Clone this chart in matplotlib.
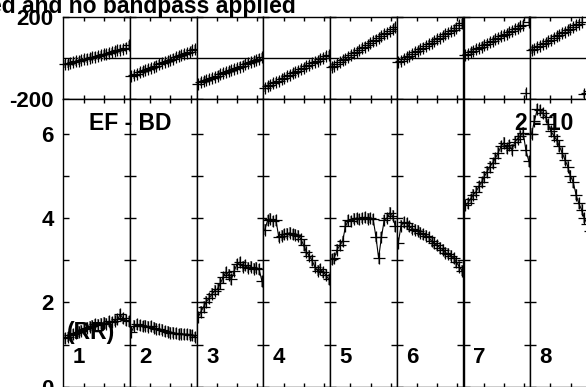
import numpy as np
import matplotlib
matplotlib.use('Agg')
import matplotlib.pyplot as plt

plt.rcParams['font.family'] = ['Liberation Sans', 'DejaVu Sans']
plt.rcParams['font.weight'] = 'bold'
plt.rcParams['axes.unicode_minus'] = False

# observation times within each IF panel (hours)
times = [0.07, 0.21, 0.35, 0.48, 0.62, 0.76, 0.90, 1.03, 1.17, 1.31, 1.44, 1.58,
         1.72, 1.86, 1.99, 2.13, 2.27, 2.40, 2.54, 2.68, 2.82, 2.95, 3.09, 3.23]
ifNumbers = [1, 2, 3, 4, 5, 6, 7, 8]

# phase (degrees) per IF
phase1 = [-30, -27, -22, -20, -16, -12, -10, -6, -2, 0, 4, 8, 10, 14, 18, 22, 25, 30, 33, 38, 42, 46, 52, 62]
phase2 = [-88, -82, -76, -70, -65, -59, -53, -48, -42, -36, -30, -25, -19, -13, -8, -2, 4, 10, 15, 21, 27, 32, 38, 45]
phase3 = [-125, -118, -113, -107, -102, -96, -91, -85, -80, -74, -69, -63, -58, -52, -47, -41, -36, -30, -25, -19, -14, -8, -2, 5]
phase4 = [-145, -138, -131, -124, -117, -110, -103, -96, -89, -82, -75, -68, -61, -54, -47, -40, -33, -26, -19, -12, -5, 2, 9, 16]
phase5 = [-45, -37, -28, -20, -11, -3, 6, 14, 23, 31, 40, 48, 57, 65, 74, 82, 91, 99, 108, 116, 125, 133, 142, 152]
phase6 = [-20, -12, -4, 4, 12, 20, 28, 36, 44, 52, 60, 68, 76, 84, 92, 100, 108, 116, 124, 132, 140, 150, 160, 170]
phase7 = [15, 22, 29, 36, 43, 50, 57, 64, 71, 78, 85, 92, 99, 106, 113, 120, 127, 134, 141, 148, 155, 162, -172, 176]
phase8 = [38, 45, 53, 60, 68, 76, 83, 91, 99, 106, 114, 122, 129, 137, 145, 152, 160, 168, 175, -177, -170, -162, -154, -146]

# amplitude per IF
amp1 = [1.15, 1.18, 1.22, 1.25, 1.28, 1.30, 1.33, 1.36, 1.40, 1.42, 1.45, 1.48,
        1.47, 1.50, 1.52, 1.50, 1.55, 1.53, 1.57, 1.60, 1.72, 1.62, 1.58, 1.55]
amp2 = [1.30, 1.45, 1.48, 1.46, 1.44, 1.45, 1.42, 1.43, 1.40, 1.38, 1.36, 1.35,
        1.32, 1.30, 1.28, 1.28, 1.27, 1.25, 1.26, 1.24, 1.25, 1.23, 1.22, 1.18]
amp3 = [1.65, 1.78, 1.90, 2.02, 2.10, 2.20, 2.28, 2.32, 2.45, 2.60, 2.72, 2.65,
        2.55, 2.75, 2.90, 2.95, 2.85, 2.88, 2.82, 2.85, 2.80, 2.82, 2.78, 2.50]
amp4 = [3.72, 3.95, 3.98, 3.92, 3.95, 3.55, 3.58, 3.62, 3.63, 3.65, 3.62, 3.60,
        3.58, 3.50, 3.35, 3.20, 3.10, 3.00, 2.85, 2.75, 2.78, 2.72, 2.65, 2.55]
amp5 = [3.02, 3.05, 3.25, 3.35, 3.45, 3.80, 3.95, 3.92, 3.98, 4.00, 3.97, 4.00,
        4.02, 3.98, 4.00, 3.97, 3.55, 3.05, 3.55, 3.95, 4.00, 4.12, 4.05, 3.80]
amp6 = [3.40, 3.82, 3.90, 3.88, 3.80, 3.75, 3.72, 3.70, 3.65, 3.62, 3.58, 3.55,
        3.45, 3.40, 3.35, 3.30, 3.25, 3.18, 3.15, 3.10, 3.05, 2.95, 2.85, 2.75]
amp7 = [4.30, 4.35, 4.45, 4.55, 4.62, 4.75, 4.85, 4.98, 5.10, 5.22, 5.30, 5.42,
        5.55, 5.70, 5.78, 5.65, 5.72, 5.62, 5.80, 5.88, 5.95, 6.02, 5.60, 5.35]
amp8 = [6.00, 6.30, 6.58, 6.55, 6.48, 6.40, 6.22, 6.05, 5.95, 5.85, 5.70, 5.55,
        5.38, 5.22, 5.00, 4.85, 4.55, 4.35, 4.20, 4.00, 3.85, 3.70, 3.55, 3.40]

phases = [phase1, phase2, phase3, phase4, phase5, phase6, phase7, phase8]
amps = [amp1, amp2, amp3, amp4, amp5, amp6, amp7, amp8]
phaseErr = 20
ampErr = 0.13

W, H = 586.0, 387.0
fig = plt.figure(figsize=(W / 100, H / 100), dpi=100)

x0 = 63.3
pw = 66.7
phaseTop, mid, ampBottom = 17.3, 99.0, 386.8

def styleAxis(ax, ymin, ymax):
    ax.set_xlim(0, 3.3)
    ax.set_ylim(ymin, ymax)
    ax.set_xticks([1, 2, 3])
    ax.tick_params(axis='x', direction='in', top=True, bottom=True, length=3, width=1,
                   labelbottom=False)
    ax.tick_params(axis='y', direction='in', left=True, right=True, length=4.5, width=1,
                   labelsize=16, pad=7)
    for s in ax.spines.values():
        s.set_linewidth(1)
        s.set_color('black')

for i in range(len(ifNumbers)):
    left = (x0 + i * pw) / W
    axP = fig.add_axes([left, 1 - mid / H, pw / W, (mid - phaseTop) / H])
    axA = fig.add_axes([left, 1 - ampBottom / H, pw / W, (ampBottom - mid) / H])

    styleAxis(axP, -200, 200)
    axP.set_yticks([-200, 200])
    axP.axhline(0, color='black', lw=1)
    axP.errorbar(times, phases[i], yerr=phaseErr, fmt='none', ecolor='0.55', elinewidth=1.5)
    axP.plot(times, phases[i], 'k+', ms=8, mew=0.9, clip_on=False)

    styleAxis(axA, 0, 6.82)
    axA.set_yticks([0, 1, 2, 3, 4, 5, 6])
    axA.set_yticklabels(['0', '', '2', '', '4', '', '6'])
    axA.errorbar(times, amps[i], yerr=ampErr, fmt='none', ecolor='0.55', elinewidth=1.5)
    axA.plot(times, amps[i], 'k-', lw=0.8)
    axA.plot(times, amps[i], 'k+', ms=8, mew=0.9)
    axA.text(0.235, 0.1035, str(ifNumbers[i]), transform=axA.transAxes, fontsize=16,
             fontweight='bold', ha='center', va='center')

    if i > 0:
        axP.tick_params(labelleft=False)
        axA.tick_params(labelleft=False)

fig.text(130 / W, 1 - 123 / H, 'EF - BD', fontsize=16.5, fontweight='bold', ha='center', va='center')
fig.text(544 / W, 1 - 123 / H, '2 - 10', fontsize=16.5, fontweight='bold', ha='center', va='center')
fig.text(91 / W, 1 - 333 / H, '(RR)', fontsize=16.5, fontweight='bold', ha='center', va='center')
fig.text(296 / W, 1 - 12.5 / H, 'ed and no bandpass applied', fontsize=16.5, fontweight='bold',
         ha='right', va='baseline')

plt.savefig('out.png', dpi=100)
